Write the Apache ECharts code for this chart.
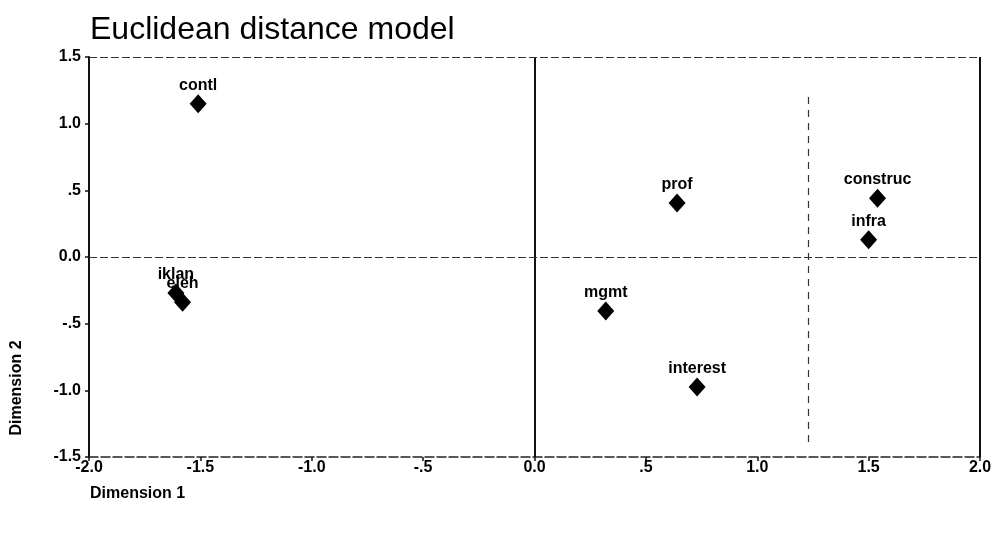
<!DOCTYPE html>
<html>
<head>
<meta charset="utf-8">
<script src="https://cdn.jsdelivr.net/npm/echarts@6/dist/echarts.min.js"></script>
<style>
html,body{margin:0;padding:0;background:#fff;}
#c{width:999px;height:536px;}
</style>
</head>
<body>
<div id="c"></div>
<script>
const names = ['contl','iklan','eleh','prof','construc','infra','mgmt','interest'];
const dim1 = [-1.51, -1.61, -1.58, 0.64, 1.54, 1.50, 0.32, 0.73];
const dim2 = [1.15, -0.27, -0.34, 0.405, 0.44, 0.13, -0.405, -0.975];
const xTickValues = [-2, -1.5, -1, -0.5, 0, 0.5, 1, 1.5, 2];
const xTickLabels = ['-2.0','-1.5','-1.0','-.5','0.0','.5','1.0','1.5','2.0'];
const yTickValues = [-1.5, -1, -0.5, 0, 0.5, 1, 1.5];
const yTickLabels = ['-1.5','-1.0','-.5','0.0','.5','1.0','1.5'];
const refX = 1.23;

const FONT = '"Liberation Sans", Arial, sans-serif';
const fmt = (vals, labels) => v => {
  const i = vals.findIndex(t => Math.abs(t - v) < 1e-9);
  return i >= 0 ? labels[i] : '';
};

const chart = echarts.init(document.getElementById('c'));
chart.setOption({
  backgroundColor: '#fff',
  animation: false,
  textStyle: { fontFamily: FONT },
  grid: { left: 89, right: 19, top: 57, bottom: 79 },
  xAxis: {
    type: 'value', min: -2, max: 2, interval: 0.5,
    axisLine: { show: true, onZero: false, lineStyle: { color: '#222', width: 1.5, type: [9, 3] } },
    axisTick: { show: true, length: 4, lineStyle: { color: '#111', width: 1.5 } },
    axisLabel: { color: '#000', fontSize: 16, fontWeight: 'bold', margin: 3, formatter: fmt(xTickValues, xTickLabels) },
    splitLine: { show: false }
  },
  yAxis: {
    type: 'value', min: -1.5, max: 1.5, interval: 0.5,
    axisLine: { show: true, onZero: false, lineStyle: { color: '#111', width: 2 } },
    axisTick: { show: true, length: 4, lineStyle: { color: '#111', width: 1.5 } },
    axisLabel: { color: '#000', fontSize: 16, fontWeight: 'bold', margin: 8, formatter: fmt(yTickValues, yTickLabels) },
    splitLine: { show: false }
  },
  graphic: [
    { type: 'text', left: 90, top: 14, style: { text: 'Euclidean distance model', font: '32px ' + FONT, fill: '#000' } },
    { type: 'text', left: 90, top: 486, style: { text: 'Dimension 1', font: 'bold 16px ' + FONT, fill: '#000' } },
    { type: 'text', x: 17, y: 388, rotation: Math.PI / 2, style: { text: 'Dimension 2', font: 'bold 16px ' + FONT, fill: '#000', align: 'center', verticalAlign: 'middle' } }
  ],
  series: [{
    type: 'scatter',
    symbol: 'diamond',
    symbolSize: [17, 19],
    itemStyle: { color: '#000', opacity: 1 },
    data: dim1.map((x, i) => ({ value: [x, dim2[i]], name: names[i] })),
    label: {
      show: true, position: 'top', distance: 1,
      formatter: p => p.name,
      color: '#000', fontSize: 16, fontWeight: 'bold', fontFamily: FONT
    },
    markLine: {
      silent: true, symbol: 'none', label: { show: false },
      data: [
        { xAxis: 0, lineStyle: { color: '#111', width: 2, type: 'solid' } },
        { yAxis: 0, lineStyle: { color: '#333', width: 1.2, type: [8, 3] } },
        { yAxis: 1.5, lineStyle: { color: '#333', width: 1.2, type: [8, 3] } },
        { xAxis: 2, lineStyle: { color: '#111', width: 2, type: 'solid' } },
        [
          { coord: [refX, 1.2], lineStyle: { color: '#333', width: 1.2, type: [7, 6] } },
          { coord: [refX, -1.4] }
        ]
      ]
    }
  }]
});
</script>
</body>
</html>
